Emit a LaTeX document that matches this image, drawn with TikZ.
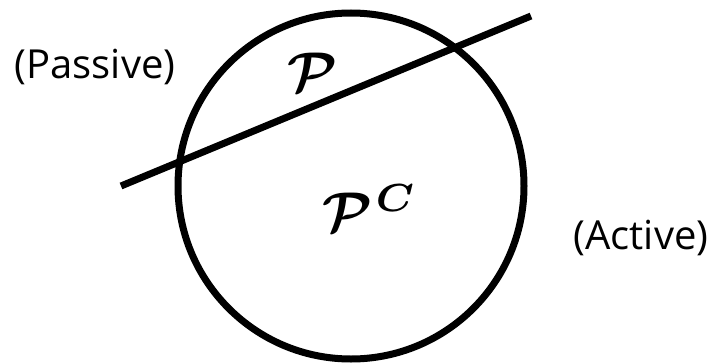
\documentclass[tikz,border=0pt]{standalone}
\usepackage{graphicx}
\usepackage{fontspec}
\setmainfont{Open Sans}
\begin{document}
\begin{tikzpicture}[x=1pt,y=-1pt,
  lbl/.style={inner sep=0pt, font=\fontsize{40}{48}\selectfont},
  mth/.style={inner sep=0pt},
  thick7/.style={line width=7pt}]
\useasboundingbox (0,0) rectangle (715,364);
\node[circle, draw, thick7, minimum size=346pt, inner sep=0pt] (disk) at (351,186) {};
\coordinate (a) at (121,186);
\coordinate (b) at (531,16);
\draw[thick7] (a) -- (b);
\node[lbl] (passive) at (95,67) {(Passive)};
\node[lbl] (active) at (641,238) {(Active)};
\node[mth] (p) at (313,72) {\scalebox{5.6}{\boldmath$\mathcal{P}$}};
\node[mth] (pc) at (370,208) {\scalebox{5.6}{\boldmath$\mathcal{P}^{\mkern1mu\scriptstyle C}$}};
\end{tikzpicture}
\end{document}
